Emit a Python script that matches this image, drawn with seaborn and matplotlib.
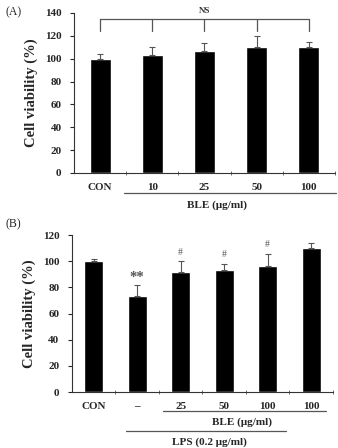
import numpy as np
import pandas as pd
import matplotlib
matplotlib.use('Agg')
import matplotlib.pyplot as plt
import seaborn as sns

# ----- data -----
a_labels = ['CON', '10', '25', '50', '100']
a_means = [100, 103.5, 107, 110, 110]
a_err = [4, 6.5, 6.5, 9.5, 4.5]

b_labels = ['CON', '–', '25', '50', '100', '100']
b_means = [100, 73.5, 92, 93, 96.5, 110]
b_err = [2, 8.5, 8, 5, 9, 4]
b_marks = ['', '**', '#', '#', '#', '']
b_mark_y = [0, 88, 107, 105.5, 113, 0]

sns.set_style('white')
plt.rcParams['font.family'] = ['Liberation Serif', 'DejaVu Serif']

fig = plt.figure(figsize=(3.38, 4.48), dpi=100)
axA = fig.add_axes([0.219, 0.614, 0.772, 0.357])
axB = fig.add_axes([0.213, 0.125, 0.772, 0.350])

grey = '#555555'
fs = 8


def style_axes(ax, n, ymax, step, right):
    ax.set_ylim(0, ymax)
    ax.set_xlim(-0.5, right)
    ax.set_yticks(np.arange(0, ymax + 1, step))
    ax.set_yticklabels([str(v) for v in np.arange(0, ymax + 1, step)],
                       fontsize=fs, fontweight='bold')
    ax.set_xticks(range(n))
    ax.set_xticks(np.arange(0.5, n - 0.4, 1), minor=True)
    ax.tick_params(axis='y', left=True, direction='out', length=3, width=0.8, pad=6)
    ax.tick_params(axis='x', which='major', bottom=False, pad=3.5)
    ax.tick_params(axis='x', which='minor', bottom=True, direction='inout',
                   length=3, width=0.6, color=grey)
    for s in ['top', 'right']:
        ax.spines[s].set_visible(False)
    for s in ['left', 'bottom']:
        ax.spines[s].set_color('#333333')
        ax.spines[s].set_linewidth(0.8)
    ax.set_ylabel('Cell viability (%)', fontsize=10.5, fontweight='bold', labelpad=5)
    ax.set_xlabel('')


# ----- panel A -----
dfA = pd.DataFrame({'pos': range(len(a_labels)), 'val': a_means})
sns.barplot(data=dfA, x='pos', y='val', color='black', width=0.4,
            errorbar=None, ax=axA, saturation=1)
axA.errorbar(range(len(a_labels)), a_means, yerr=[np.zeros(len(a_err)), a_err],
             fmt='none', ecolor=grey, elinewidth=0.8, capsize=2.5, capthick=0.8)
style_axes(axA, len(a_labels), 140, 20, 4.5)
axA.set_xticklabels(a_labels, fontsize=fs, fontweight='bold')

# NS bracket over all groups
xs = list(range(len(a_labels)))
axA.plot([xs[0], xs[-1]], [134.7, 134.7], color=grey, lw=0.9, clip_on=False)
for x in xs:
    axA.plot([x, x], [124.5, 134.7], color=grey, lw=0.9, clip_on=False)
axA.text(2, 141.5, 'NS', ha='center', va='center', fontsize=6.5,
         fontweight='bold', color='#333333', clip_on=False)

trA = axA.get_xaxis_transform()
axA.plot([0.46, 4.52], [-0.125, -0.125], transform=trA, color=grey, lw=0.9, clip_on=False)
axA.text(2.24, -0.2, 'BLE (μg/ml)', transform=trA, ha='center', va='center',
         fontsize=fs, fontweight='bold')
fig.text(0.015, 0.973, '(A)', fontsize=8.5, ha='left', va='center')

# ----- panel B -----
dfB = pd.DataFrame({'pos': range(len(b_labels)), 'val': b_means})
sns.barplot(data=dfB, x='pos', y='val', color='black', width=0.43,
            errorbar=None, ax=axB, saturation=1)
axB.errorbar(range(len(b_labels)), b_means, yerr=[np.zeros(len(b_err)), b_err],
             fmt='none', ecolor=grey, elinewidth=0.8, capsize=2.5, capthick=0.8)
style_axes(axB, len(b_labels), 120, 20, 5.32)
axB.set_xticklabels(b_labels, fontsize=fs, fontweight='bold')

for i, (m, y) in enumerate(zip(b_marks, b_mark_y)):
    if m == '**':
        axB.text(i, y, m, ha='center', va='center', fontsize=10.5,
                 fontweight='bold', color=grey)
    elif m:
        axB.text(i, y, m, ha='center', va='center', fontsize=7, color=grey)

trB = axB.get_xaxis_transform()
axB.plot([1.6, 5.33], [-0.121, -0.121], transform=trB, color=grey, lw=0.9, clip_on=False)
axB.text(3.4, -0.19, 'BLE (μg/ml)', transform=trB, ha='center', va='center',
         fontsize=fs, fontweight='bold')
axB.plot([0.75, 4.43], [-0.248, -0.248], transform=trB, color=grey, lw=0.9, clip_on=False)
axB.text(2.65, -0.318, 'LPS (0.2 μg/ml)', transform=trB, ha='center', va='center',
         fontsize=fs, fontweight='bold')
fig.text(0.015, 0.50, '(B)', fontsize=8.5, ha='left', va='center')

fig.savefig('out.png', dpi=100)
